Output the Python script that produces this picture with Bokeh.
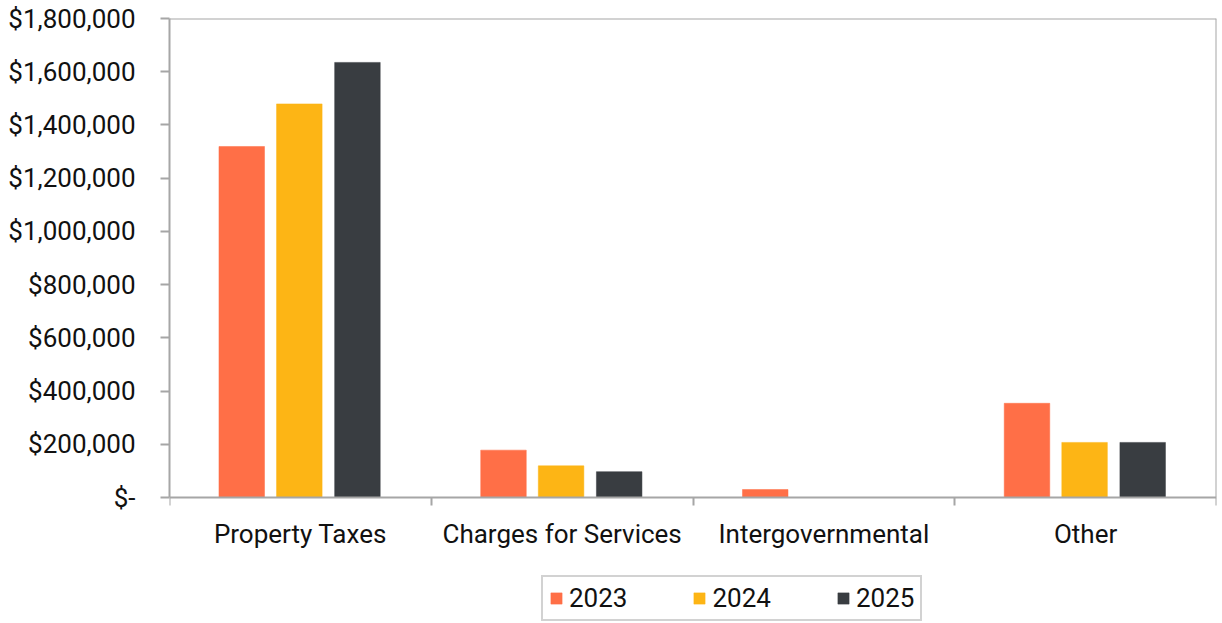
from bokeh.plotting import figure
from bokeh.models import (ColumnDataSource, Range1d, LinearAxis, FixedTicker,
                          NumeralTickFormatter, Legend, LegendItem)
from bokeh.transform import dodge
from bokeh.embed import file_html
from bokeh.resources import INLINE

categories = ["Property Taxes", "Charges for Services", "Intergovernmental", "Other"]
years = ["2023", "2024", "2025"]
values_2023 = [1319000, 178000, 30000, 354000]
values_2024 = [1479000, 119000, 0, 207000]
values_2025 = [1635000, 97000, 0, 207000]
y_ticks = [0, 200000, 400000, 600000, 800000, 1000000, 1200000, 1400000, 1600000, 1800000]

colors = ["#FF6F47", "#FDB515", "#393D41"]
FONT = "Roboto"
GRAY = "#A6A6A6"
FS = "26px"

Y_MAX = 1800000
H, TOP, AXIS_Y = 622, 18, 497
# extend the frame below zero so the legend can sit inside it
y_min = -Y_MAX * (H - AXIS_Y) / (AXIS_Y - TOP)

n = len(categories)
centers = [i + 0.5 for i in range(n)]
source = ColumnDataSource(data=dict(xc=centers, cat=categories, y2023=values_2023,
                                    y2024=values_2024, y2025=values_2025))

p = figure(width=1220, height=H, x_range=Range1d(0, n), y_range=Range1d(y_min, Y_MAX),
           output_backend="svg", toolbar_location=None, x_axis_location=None,
           min_border_left=169, min_border_right=4, min_border_top=TOP, min_border_bottom=0)
p.grid.visible = False
p.outline_line_color = None

offsets = [-0.224, -0.004, 0.218]
renderers = []
for yr, off, col in zip(years, offsets, colors):
    r = p.vbar(x=dodge("xc", off), top="y" + yr, width=0.174, source=source,
               fill_color=col, line_color=col, line_width=0.5)
    renderers.append(r)

# y axis
ya = p.yaxis[0]
ya.bounds = (0, Y_MAX)
ya.ticker = FixedTicker(ticks=y_ticks)
ya.formatter = NumeralTickFormatter(format="$0,0")
ya.major_label_overrides = {0: "$-"}
ya.major_label_text_font = FONT
ya.major_label_text_font_size = FS
ya.major_label_text_color = "#111111"
ya.axis_line_color = GRAY
ya.axis_line_width = 2
ya.major_tick_line_color = GRAY
ya.major_tick_line_width = 2
ya.major_tick_out = 9
ya.major_tick_in = 0
ya.minor_tick_line_color = None
ya.major_label_standoff = 25

# top and right border lines
top_ax = LinearAxis(fixed_location=Y_MAX, ticker=FixedTicker(ticks=[]), axis_line_color=GRAY,
                    axis_line_width=2, major_tick_line_color=None, minor_tick_line_color=None,
                    major_tick_out=0, major_tick_in=0, major_label_standoff=0)
p.add_layout(top_ax, "above")
right_ax = LinearAxis(fixed_location=n, bounds=(0, Y_MAX), ticker=FixedTicker(ticks=[]),
                      axis_line_color=GRAY, axis_line_width=2, major_tick_line_color=None,
                      minor_tick_line_color=None, major_tick_out=0, major_tick_in=0,
                      major_label_standoff=0)
p.add_layout(right_ax, "right")

# x axis at zero: boundary ticks (no labels)
edges = list(range(n + 1))
ta = LinearAxis(fixed_location=0, ticker=FixedTicker(ticks=edges),
                major_label_overrides={e: "" for e in edges},
                major_label_text_font_size="1px", major_label_standoff=0,
                axis_line_color=GRAY, axis_line_width=2, major_tick_line_color=GRAY,
                major_tick_line_width=2, major_tick_out=8, major_tick_in=0, minor_tick_line_color=None)
p.add_layout(ta, "below")

# x axis at zero: category labels
ca = LinearAxis(fixed_location=0, ticker=FixedTicker(ticks=centers),
                major_label_overrides={c: name for c, name in zip(centers, categories)},
                axis_line_color=None, major_tick_line_color=None, major_tick_out=0,
                major_tick_in=0, minor_tick_line_color=None, major_label_standoff=21,
                major_label_text_font=FONT, major_label_text_font_size=FS,
                major_label_text_color="#111111")
p.add_layout(ca, "below")

legend = Legend(items=[LegendItem(label=yr, renderers=[r]) for yr, r in zip(years, renderers)],
                orientation="horizontal", location=(372, 1),
                glyph_width=14, glyph_height=14, label_standoff=6, label_width=58, spacing=65,
                padding=6, label_height=28, label_text_font=FONT, label_text_font_size=FS,
                label_text_color="#111111", border_line_color=GRAY, border_line_width=2,
                background_fill_alpha=1, margin=0)
p.add_layout(legend, "center")

open("out.html", "w").write(file_html(p, INLINE))
